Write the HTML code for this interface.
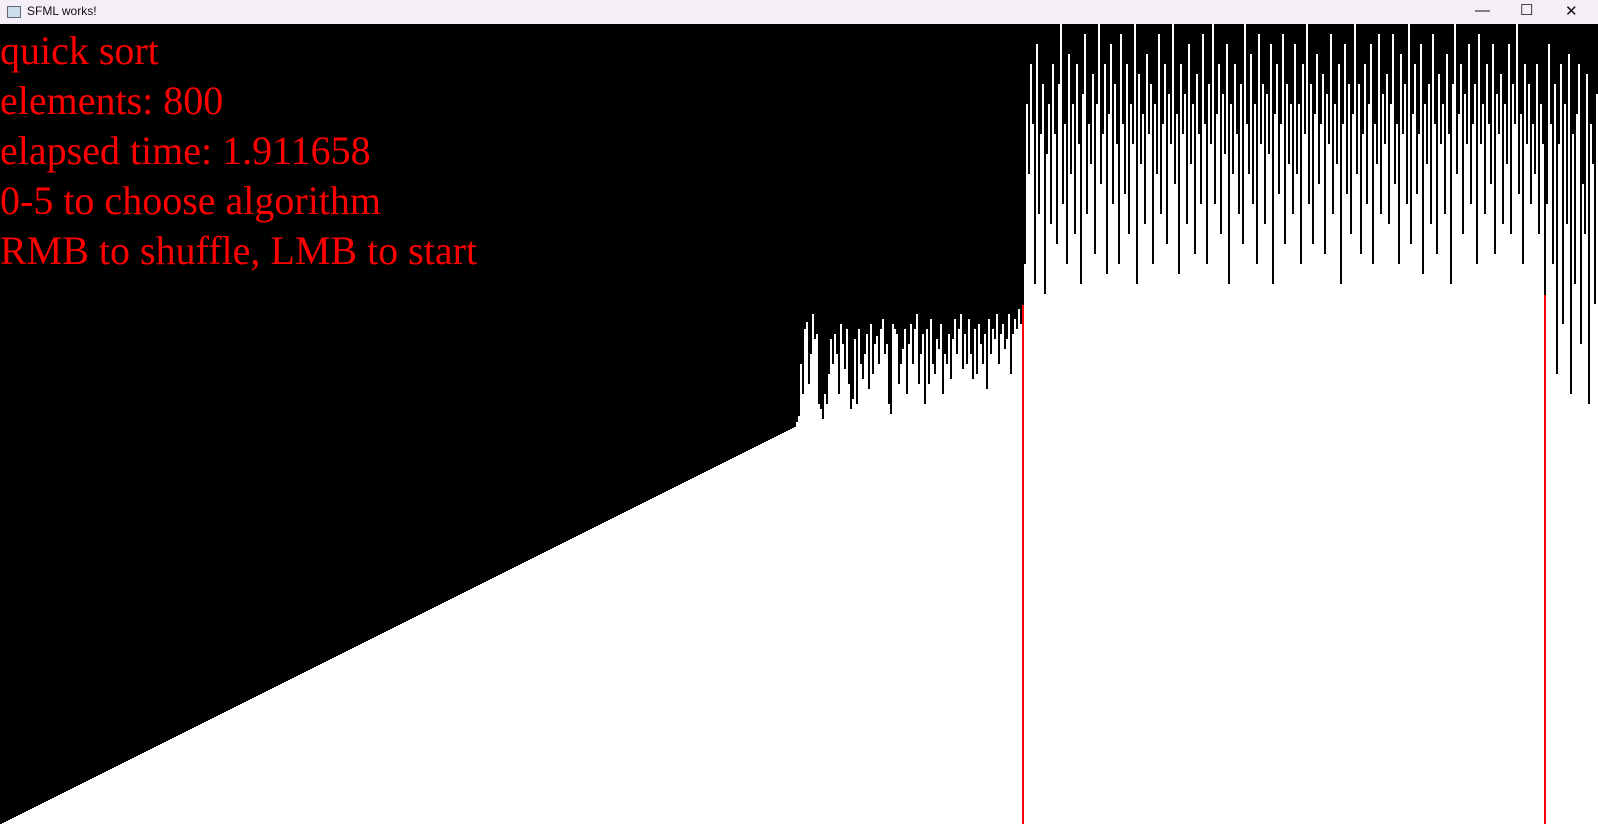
<!DOCTYPE html>
<html><head><meta charset="utf-8"><style>
html,body{margin:0;padding:0;width:1598px;height:824px;overflow:hidden;background:#fff;font-family:"Liberation Sans",sans-serif}
#titlebar{position:absolute;left:0;top:0;width:1598px;height:24px;background:#f4eef7}
#title{position:absolute;left:27px;top:4px;font-size:12px;color:#111}
#icon{position:absolute;left:7px;top:6px;width:12px;height:10px;border:1px solid #667;background:#cde}
.ctl{position:absolute;top:2px;font-size:15px;color:#111}
#chart{position:absolute;left:0;top:24px}
.txt{position:absolute;left:0;font-family:"Liberation Serif",serif;font-size:40px;color:#ff0000;line-height:50px;white-space:nowrap}
</style></head><body>
<div id="titlebar">
<div id="icon"></div>
<div id="title">SFML works!</div>
<div class="ctl" style="left:1475px">—</div>
<div class="ctl" style="left:1520px;top:1px">☐</div>
<div class="ctl" style="left:1565px">✕</div>
</div>
<svg id="chart" width="1598" height="800"></svg>
<div class="txt" style="top:26px">quick sort</div>
<div class="txt" style="top:76px">elements: 800</div>
<div class="txt" style="top:126px">elapsed time: 1.911658</div>
<div class="txt" style="top:176px">0-5 to choose algorithm</div>
<div class="txt" style="top:226px">RMB to shuffle, LMB to start</div>
<script>
const sortedPart = [
0,1,2,3,4,5,6,7,8,9,10,11,12,13,14,15,16,17,18,19,
20,21,22,23,24,25,26,27,28,29,30,31,32,33,34,35,36,37,38,39,
40,41,42,43,44,45,46,47,48,49,50,51,52,53,54,55,56,57,58,59,
60,61,62,63,64,65,66,67,68,69,70,71,72,73,74,75,76,77,78,79,
80,81,82,83,84,85,86,87,88,89,90,91,92,93,94,95,96,97,98,99,
100,101,102,103,104,105,106,107,108,109,110,111,112,113,114,115,116,117,118,119,
120,121,122,123,124,125,126,127,128,129,130,131,132,133,134,135,136,137,138,139,
140,141,142,143,144,145,146,147,148,149,150,151,152,153,154,155,156,157,158,159,
160,161,162,163,164,165,166,167,168,169,170,171,172,173,174,175,176,177,178,179,
180,181,182,183,184,185,186,187,188,189,190,191,192,193,194,195,196,197,198,199,
200,201,202,203,204,205,206,207,208,209,210,211,212,213,214,215,216,217,218,219,
220,221,222,223,224,225,226,227,228,229,230,231,232,233,234,235,236,237,238,239,
240,241,242,243,244,245,246,247,248,249,250,251,252,253,254,255,256,257,258,259,
260,261,262,263,264,265,266,267,268,269,270,271,272,273,274,275,276,277,278,279,
280,281,282,283,284,285,286,287,288,289,290,291,292,293,294,295,296,297,298,299,
300,301,302,303,304,305,306,307,308,309,310,311,312,313,314,315,316,317,318,319,
320,321,322,323,324,325,326,327,328,329,330,331,332,333,334,335,336,337,338,339,
340,341,342,343,344,345,346,347,348,349,350,351,352,353,354,355,356,357,358,359,
360,361,362,363,364,365,366,367,368,369,370,371,372,373,374,375,376,377,378,379,
380,381,382,383,384,385,386,387,388,389,390,391,392,393,394,395,396,397];
const midPart = [402,408,460,430,495,502,440,470,510,485,
490,420,415,405,430,420,450,485,460,490,
470,430,500,480,455,495,440,415,425,485,
420,495,460,445,470,490,435,500,450,480,
488,460,495,505,470,480,420,410,500,495,
490,440,460,475,495,430,480,500,460,495,
510,440,470,490,420,495,440,505,460,450,
485,475,500,430,470,460,490,445,485,505,
470,495,510,455,490,460,505,470,445,495,
450,500,480,460,490,435,505,470,495,485,
510,460,490,500,475,485,510,450,490,505,495,515,500];
const pivotA = [519];
const tallPart = [560,720,650,760,700,540,780,610,690,740,530,670,720,600,760,
690,580,740,800,620,700,560,770,650,720,590,760,680,540,730,
790,610,700,660,750,570,720,800,640,690,760,550,710,780,620,
740,680,560,790,700,630,760,590,720,680,800,540,750,660,710,
600,770,690,740,560,720,650,790,610,700,760,580,730,680,800,
640,710,550,760,690,730,600,780,660,720,570,750,690,620,790,
700,560,740,680,800,620,710,760,590,730,670,780,540,720,650,
760,690,610,740,580,800,700,650,770,620,720,560,790,680,740,
600,730,670,780,540,710,760,630,700,790,580,740,660,720,610,
780,650,720,560,760,690,800,620,740,580,710,770,640,700,750,
570,730,680,790,610,720,660,760,540,700,780,630,740,590,710,
800,650,740,570,690,760,620,720,780,560,700,660,790,610,730,
680,750,600,720,790,640,700,560,770,690,740,620,800,580,710,
760,630,690,780,550,720,660,740,600,790,700,570,750,680,720,
610,770,690,540,740,800,650,710,760,590,730,680,780,620,700,
740,560,790,680,720,610,760,700,640,780,570,730,690,750,600,
720,660,780,590,740,700,800,630,710,560,760,680,740,620,700,
650,760,590,720,680];
const pivotB = [529];
const tailPart = [620,780,700,560,740,450,680,760,500,720,600,770,430,690,
540,710,760,480,640,590,750,420,700,660,520,730,470];

const svg = document.getElementById('chart');
const NS = 'http://www.w3.org/2000/svg';
const H = 800, BW = 2;
const xOf = i => i * BW;
const yOf = v => H - v;
const bg = document.createElementNS(NS, 'rect');
bg.setAttribute('width', 1598); bg.setAttribute('height', H); bg.setAttribute('fill', '#000');


svg.appendChild(bg);
const segs = [[sortedPart,'#fff'],[midPart,'#fff'],[pivotA,'#ff0000'],[tallPart,'#fff'],[pivotB,'#ff0000'],[tailPart,'#fff']];
let idx = 0;
segs.forEach(([arr, col]) => {
  arr.forEach(v => {
    const r = document.createElementNS(NS, 'rect');
    r.setAttribute('x', xOf(idx));
    r.setAttribute('y', yOf(v));
    r.setAttribute('width', BW);
    r.setAttribute('height', v);
    r.setAttribute('fill', col);
    
    
    svg.appendChild(r);
    idx++;
  });
});
</script>
</body></html>
